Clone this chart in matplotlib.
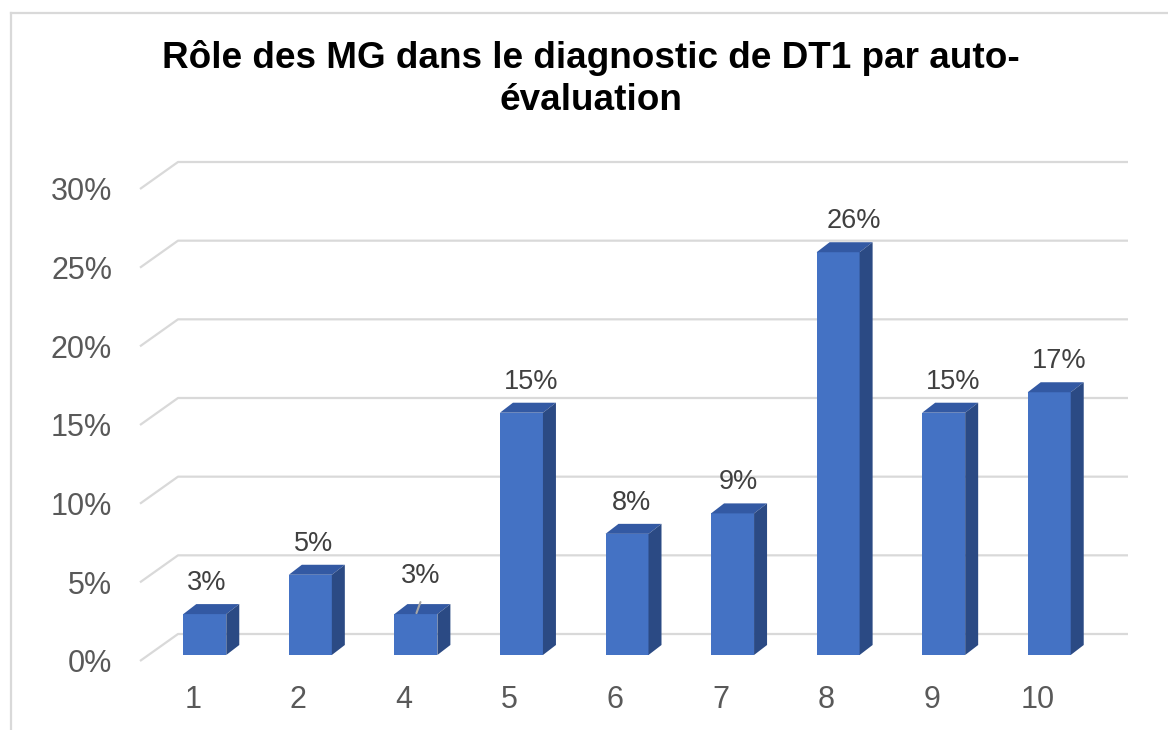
import numpy as np
import matplotlib
matplotlib.use("Agg")
import matplotlib.pyplot as plt
from matplotlib.patches import Polygon
from matplotlib.lines import Line2D

plt.rcParams['font.family'] = ['Liberation Sans', 'DejaVu Sans']

# data (share of respondents, %)
categories = ["1", "2", "4", "5", "6", "7", "8", "9", "10"]
values = [2.6, 5.1, 2.6, 15.4, 7.7, 9.0, 25.6, 15.4, 16.7]
labels = ["3%", "5%", "3%", "15%", "8%", "9%", "26%", "15%", "17%"]
yticks = [0, 5, 10, 15, 20, 25, 30]
title = "Rôle des MG dans le diagnostic de DT1 par auto-\névaluation"

W, H = 1168, 730
fig = plt.figure(figsize=(W / 100, H / 100), dpi=100)

# front plane of the plot: x 140..1090 px, y 661..189 px
x0, x1, yb, yt = 140, 1090, 661, 189
ax = fig.add_axes([x0 / W, (H - yb) / H, (x1 - x0) / W, (yb - yt) / H])
n = len(categories)
ax.set_xlim(0, n)
ax.set_ylim(0, 30)
for s in ax.spines.values():
    s.set_visible(False)

px_x = (x1 - x0) / n        # pixels per category
px_y = (yb - yt) / 30.0     # pixels per percent

# depth of the back wall, and of the bars
wall_dx, wall_dy = 38 / px_x, 27 / px_y
bar_x0, bar_y0 = 12 / px_x, 6 / px_y
bar_w = 43 / px_x
side_dx, side_dy = 13 / px_x, 10 / px_y

grid_c = "#d9d9d9"
for v in yticks:
    ax.plot([0, wall_dx, n + wall_dx], [v, v + wall_dy, v + wall_dy],
            color=grid_c, lw=1.6, clip_on=False, zorder=1,
            solid_capstyle="butt")

front_c, top_c, side_c = "#4472c4", "#3359a3", "#2b4a84"
for i, v in enumerate(values):
    left = i + 0.5 - bar_w / 2 + bar_x0
    right = left + bar_w
    b = bar_y0
    t = bar_y0 + v
    ax.bar(left, v, width=bar_w, bottom=b, align="edge", color=front_c,
           zorder=3, clip_on=False, linewidth=0)
    ax.add_patch(Polygon([(left, t), (right, t), (right + side_dx, t + side_dy),
                          (left + side_dx, t + side_dy)], closed=True,
                         facecolor=top_c, edgecolor="none", zorder=3, clip_on=False))
    ax.add_patch(Polygon([(right, b), (right + side_dx, b + side_dy),
                          (right + side_dx, t + side_dy), (right, t)], closed=True,
                         facecolor=side_c, edgecolor="none", zorder=3, clip_on=False))
    # labels drift right a little as bars get taller (perspective)
    cx = (left + right) / 2 + 0.6 * v / px_x
    if i == 2:
        # shifted label with a small leader line
        lx = cx + 3 / px_x
        ax.annotate(labels[i], (lx, t + side_dy), xytext=(0, 15),
                    textcoords="offset pixels", ha="center", va="bottom",
                    fontsize=19.5, color="#404040", zorder=5,
                    annotation_clip=False)
        ax.annotate("", (lx - 4 / px_x, t + 1 / px_y),
                    xytext=(lx, t + side_dy + 2 / px_y),
                    arrowprops=dict(arrowstyle="-", color="#a6a6a6", lw=1.5,
                                    shrinkA=0, shrinkB=0),
                    annotation_clip=False, zorder=6)
    else:
        ax.annotate(labels[i], (cx, t + side_dy), xytext=(0, 8),
                    textcoords="offset pixels", ha="center", va="bottom",
                    fontsize=19.5, color="#404040", zorder=5,
                    annotation_clip=False)

ax.set_yticks(yticks)
ax.set_yticklabels([f"{v}%" for v in yticks])
ax.set_xticks(np.arange(n) + 0.5)
ax.set_xticklabels(categories)
ax.tick_params(axis="y", length=0, pad=20, labelsize=22, labelcolor="#595959")
ax.tick_params(axis="x", length=0, pad=17, labelsize=22, labelcolor="#595959")

fig.text(591 / W, 1 - 79 / H, title, ha="center", va="center", fontsize=26.6,
         fontweight="bold", color="black", linespacing=1.25)

# outer chart border (top and left edges visible)
fig.add_artist(Line2D([11 / W, 1], [1 - 13 / H, 1 - 13 / H], color=grid_c, lw=1.6,
                      transform=fig.transFigure))
fig.add_artist(Line2D([11 / W, 11 / W], [0, 1 - 13 / H], color=grid_c, lw=1.6,
                      transform=fig.transFigure))

fig.savefig("out.png", dpi=100, facecolor="white")
